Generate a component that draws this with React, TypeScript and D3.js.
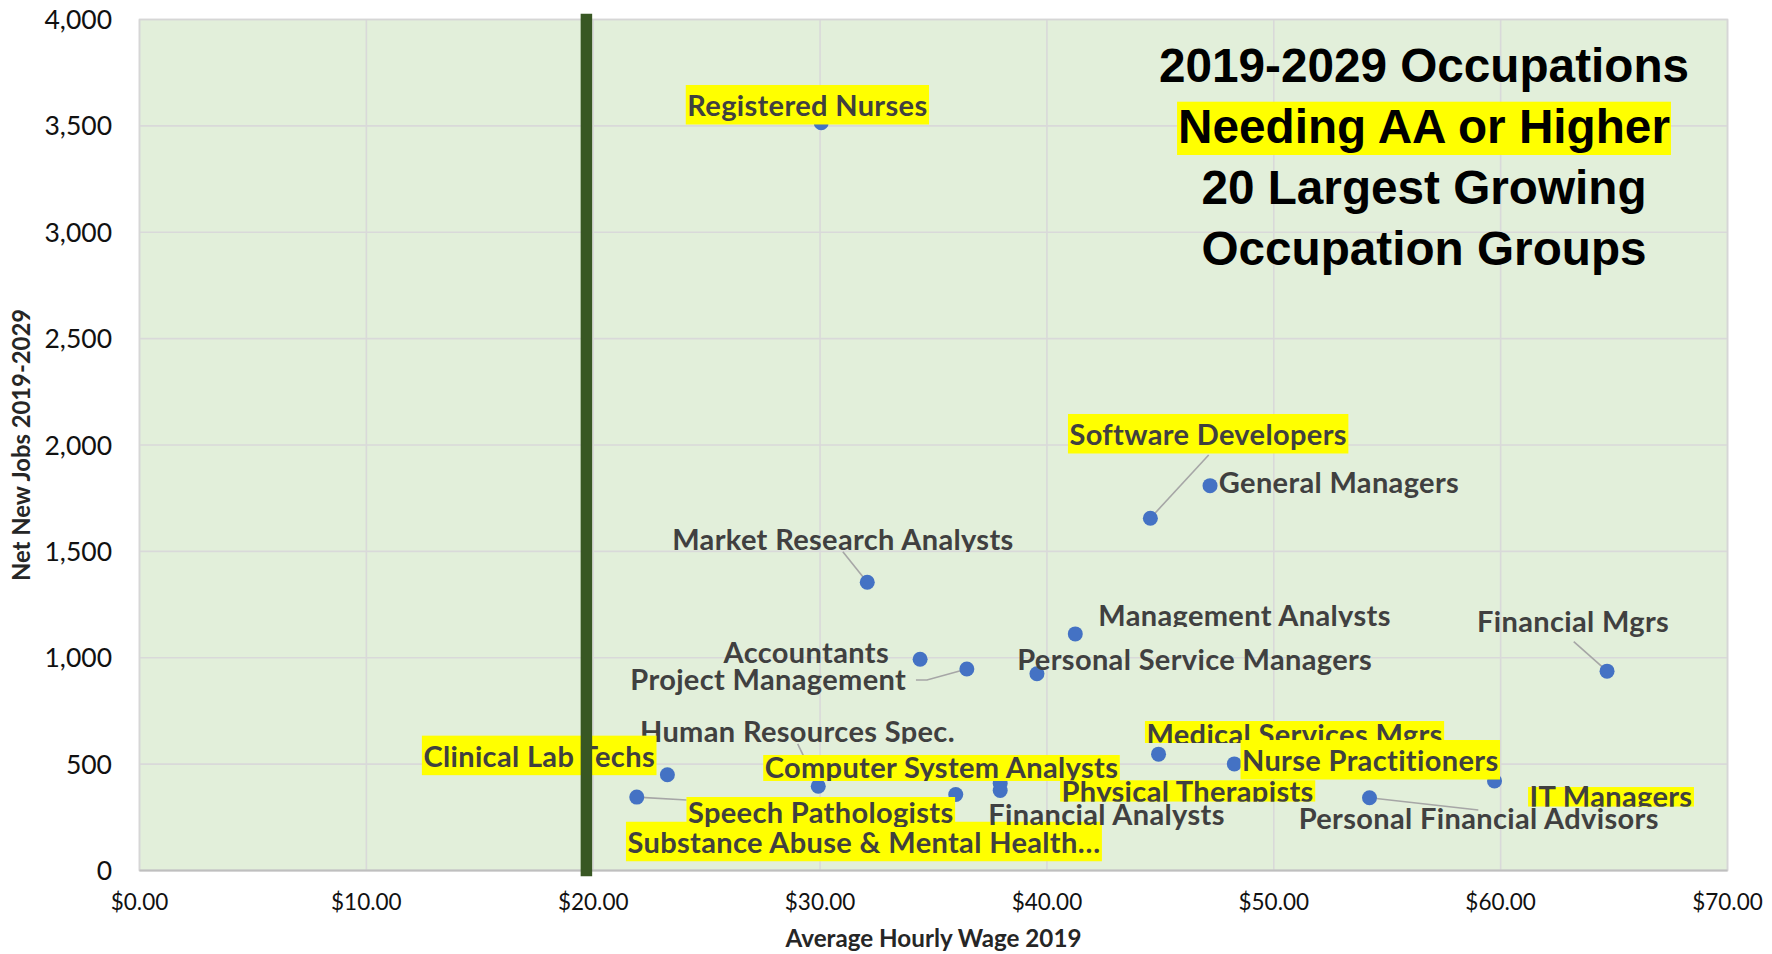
import React, { useEffect, useRef } from 'react';
import * as d3 from 'd3';

// ---------- data ----------
const occupations = [
  'Registered Nurses',
  'Software Developers',
  'General Managers',
  'Market Research Analysts',
  'Management Analysts',
  'Accountants',
  'Project Management',
  'Personal Service Managers',
  'Financial Mgrs',
  'Human Resources Spec.',
  'Clinical Lab Techs',
  'Computer System Analysts',
  'Medical Services Mgrs',
  'Nurse Practitioners',
  'Physical Therapists',
  'Substance Abuse & Mental Health\u2026',
  'Speech Pathologists',
  'Financial Analysts',
  'IT Managers',
  'Personal Financial Advisors',
];
const hourlyWage2019 = [
  30.05, 44.56, 47.19, 32.08, 41.25, 34.41, 36.47, 39.56, 64.69, 29.92,
  23.27, 37.94, 44.92, 48.26, 44.0, 35.98, 21.92, 37.94, 59.73, 54.22,
];
const netNewJobs = [
  3515, 1656, 1809, 1355, 1112, 993, 947, 925, 937, 396,
  450, 409, 547, 501, 380, 357, 345, 376, 421, 342,
];
const xTicks = [0, 10, 20, 30, 40, 50, 60, 70];
const yTicks = [0, 500, 1000, 1500, 2000, 2500, 3000, 3500, 4000];
const thresholdWage = 19.7;
const titleLines = [
  '2019-2029 Occupations',
  'Needing AA or Higher',
  '20 Largest Growing',
  'Occupation Groups',
];
const xAxisTitle = 'Average Hourly Wage 2019';
const yAxisTitle = 'Net New Jobs 2019-2029';

// ---------- layout (label placement, relative to each point, in px) ----------
type LabelLayout = {
  anchor: 'start' | 'middle' | 'end';
  dx: number;
  dy: number;
  hl?: boolean;
  box?: [number, number];
  clip?: number;
  leader?: [number, number][];
};
const labelLayout: LabelLayout[] = [
  { anchor: 'middle', dx: -13.8, dy: -6.7, hl: true },
  { anchor: 'middle', dx: 57.8, dy: -73.2, hl: true, leader: [[58.3, -63.2]] },
  { anchor: 'start', dx: 8.8, dy: 7.7 },
  { anchor: 'middle', dx: -24.3, dy: -32.2, clip: 2, leader: [[-24.4, -30.5]] },
  { anchor: 'start', dx: 23, dy: -7.9, clip: 1 },
  { anchor: 'end', dx: -31.1, dy: 4.1 },
  { anchor: 'end', dx: -60.7, dy: 21, leader: [[-50.9, 11], [-39.9, 11]] },
  { anchor: 'start', dx: -19.7, dy: -3.7 },
  { anchor: 'middle', dx: -33.9, dy: -39.5, leader: [[-33.3, -29.5]] },
  { anchor: 'middle', dx: -20.8, dy: -44.6, clip: 2, leader: [[-20.6, -42.3]] },
  { anchor: 'end', dx: -12.4, dy: -8.1, hl: true },
  { anchor: 'middle', dx: -58.7, dy: -5.5, hl: true, box: [-23, 3] },
  { anchor: 'start', dx: -12.1, dy: -9.1, hl: true, box: [-24, -2] },
  { anchor: 'start', dx: 7.7, dy: 7.1, hl: true },
  { anchor: 'middle', dx: 50, dy: 12.6, hl: true, box: [-22, -0.5] },
  { anchor: 'middle', dx: -91.8, dy: 58.2, hl: true },
  { anchor: 'start', dx: 51.2, dy: 25.9, hl: true, box: [-26, 4], leader: [[49.9, 2.9]] },
  { anchor: 'start', dx: -11.9, dy: 34.5 },
  { anchor: 'middle', dx: 116.5, dy: 26.1, hl: true, box: [-20, -0.3] },
  { anchor: 'middle', dx: 109.2, dy: 31.6, leader: [[108.8, 12.3]] },
];

const W = 1772;
const H = 954;
const PL = 139.5, PR = 1727.5, PT = 19.5, PB = 870.5;
const LABEL_FONT = "Lato, 'Noto Sans', sans-serif";
const TITLE_FONT = "'Liberation Sans', Arial, sans-serif";

export default function App() {
  const ref = useRef<SVGSVGElement>(null);

  useEffect(() => {
    const draw = () => {
      if (!ref.current) return;
      const svg = d3.select(ref.current);
      svg.selectAll('*').remove();

      const x = d3.scaleLinear().domain([0, 70]).range([PL, PR]);
      const y = d3.scaleLinear().domain([0, 4000]).range([PB, PT]);

      svg.append('rect').attr('width', W).attr('height', H).attr('fill', '#ffffff');
      const defs = svg.append('defs');

      // plot area
      svg.append('rect')
        .attr('x', PL).attr('y', PT).attr('width', PR - PL).attr('height', PB - PT)
        .attr('fill', '#E2EFDA');

      const grid = svg.append('g').attr('stroke', '#D9D9D9').attr('stroke-width', 1.6);
      grid.selectAll('line.v').data(xTicks).join('line')
        .attr('class', 'v')
        .attr('x1', (d) => x(d)).attr('x2', (d) => x(d))
        .attr('y1', PT).attr('y2', PB);
      grid.selectAll('line.h').data(yTicks).join('line')
        .attr('class', 'h')
        .attr('x1', PL).attr('x2', PR)
        .attr('y1', (d) => y(d)).attr('y2', (d) => y(d));

      svg.append('rect')
        .attr('x', PL).attr('y', PT).attr('width', PR - PL).attr('height', PB - PT)
        .attr('fill', 'none').attr('stroke', '#D6D6D6').attr('stroke-width', 1.6);
      svg.append('line')
        .attr('x1', PL).attr('x2', PR).attr('y1', PB).attr('y2', PB)
        .attr('stroke', '#BFBFBF').attr('stroke-width', 2.2);

      // tick labels
      svg.append('g').selectAll('text').data(yTicks).join('text')
        .attr('x', 112).attr('y', (d) => y(d)).attr('dy', '0.36em')
        .attr('text-anchor', 'end')
        .attr('font-family', LABEL_FONT).attr('font-size', 26.5)
        .attr('fill', '#111')
        .text((d) => d3.format(',')(d));
      svg.append('g').selectAll('text').data(xTicks).join('text')
        .attr('x', (d) => x(d)).attr('y', 910)
        .attr('text-anchor', 'middle')
        .attr('font-family', LABEL_FONT).attr('font-size', 22.5)
        .attr('fill', '#111')
        .text((d) => '$' + d3.format('.2f')(d));

      // axis titles
      svg.append('text')
        .attr('x', (PL + PR) / 2).attr('y', 947)
        .attr('text-anchor', 'middle')
        .attr('font-family', LABEL_FONT).attr('font-weight', 700).attr('font-size', 24.2)
        .attr('fill', '#262626')
        .text(xAxisTitle);
      svg.append('text')
        .attr('transform', `translate(30,${(PT + PB) / 2}) rotate(-90)`)
        .attr('text-anchor', 'middle')
        .attr('font-family', LABEL_FONT).attr('font-weight', 700).attr('font-size', 23.8)
        .attr('fill', '#262626')
        .text(yAxisTitle);

      const pts = occupations.map((name, i) => ({
        name,
        px: x(hourlyWage2019[i]),
        py: y(netNewJobs[i]),
        lay: labelLayout[i],
      }));

      // leader lines
      const line = d3.line();
      svg.append('g').selectAll('path').data(pts.filter((p) => p.lay.leader)).join('path')
        .attr('d', (p) => line([...(p.lay.leader as [number, number][]), [0, 0]].map(([a, b]) => [p.px + a, p.py + b]) as [number, number][]))
        .attr('fill', 'none').attr('stroke', '#A6A6A6').attr('stroke-width', 1.6);

      // points
      svg.append('g').selectAll('circle').data(pts).join('circle')
        .attr('cx', (p) => p.px).attr('cy', (p) => p.py).attr('r', 7.5)
        .attr('fill', '#4472C4');

      // labels
      const lg = svg.append('g');
      pts.forEach((p, i) => {
        const L = p.lay;
        const tx = p.px + L.dx;
        const ty = p.py + L.dy;
        const g = lg.append('g');
        const box = L.box || [-31, 8.5];
        const clipBottom = L.hl ? (L.box ? box[1] : undefined) : L.clip;
        if (clipBottom !== undefined) {
          defs.append('clipPath').attr('id', `lbl-clip-${i}`)
            .append('rect')
            .attr('x', 0).attr('y', ty - 60).attr('width', W).attr('height', 60 + clipBottom);
          g.attr('clip-path', `url(#lbl-clip-${i})`);
        }
        const t = g.append('text')
          .attr('x', tx).attr('y', ty)
          .attr('text-anchor', L.anchor)
          .attr('font-family', LABEL_FONT).attr('font-weight', 700).attr('font-size', 29)
          .attr('letter-spacing', 0.35)
          .attr('fill', '#404040')
          .text(p.name);
        if (L.hl) {
          const bb = (t.node() as SVGTextElement).getBBox();
          g.insert('rect', 'text')
            .attr('x', bb.x - 1.5).attr('width', bb.width + 3)
            .attr('y', ty + box[0]).attr('height', box[1] - box[0])
            .attr('fill', '#FFFF00');
        }
      });

      // threshold line
      svg.append('line')
        .attr('x1', x(thresholdWage)).attr('x2', x(thresholdWage))
        .attr('y1', y(0)).attr('y2', y(4000))
        .attr('stroke', '#385723').attr('stroke-width', 11.5)
        .attr('stroke-linecap', 'square');

      // title block
      const tg = svg.append('g');
      const baselines = [81.7, 143.3, 204.2, 265.3];
      titleLines.forEach((s, i) => {
        const t = tg.append('text')
          .attr('x', 1424).attr('y', baselines[i])
          .attr('text-anchor', 'middle')
          .attr('font-family', TITLE_FONT).attr('font-weight', 700).attr('font-size', 47.7)
          .attr('fill', '#000')
          .text(s);
        if (i === 1) {
          const bb = (t.node() as SVGTextElement).getBBox();
          tg.insert('rect', 'text:last-child')
            .attr('x', bb.x - 1).attr('width', bb.width + 2)
            .attr('y', baselines[i] - 41.6).attr('height', 53.3)
            .attr('fill', '#FFFF00');
        }
      });
    };
    draw();
    if ((document as any).fonts && (document as any).fonts.ready) {
      (document as any).fonts.ready.then(draw);
    }
  }, []);

  return (
    <svg
      ref={ref}
      width={W}
      height={H}
      style={{ position: 'absolute', left: 0, top: 0, display: 'block' }}
    />
  );
}
